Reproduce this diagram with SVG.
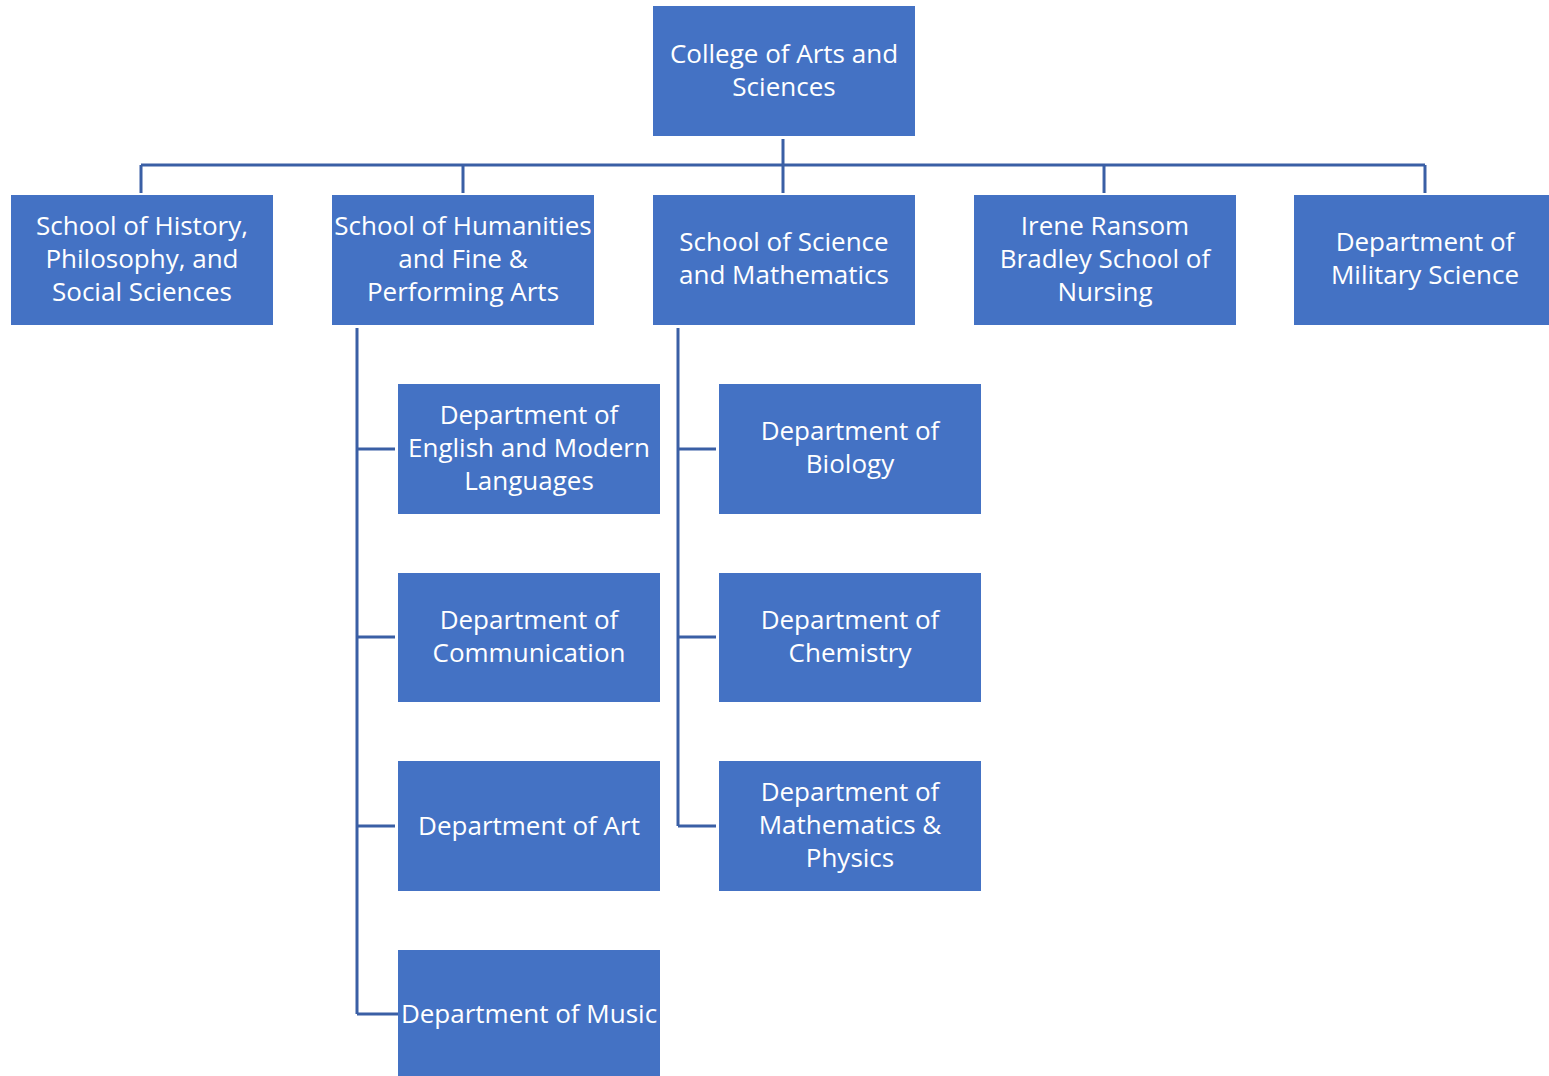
<svg xmlns="http://www.w3.org/2000/svg" width="1549" height="1076" viewBox="0 0 1549 1076">
<style>
.box{fill:#4472C4}
.lbl{fill:#fff;font-family:"Open Sans","Noto Sans",sans-serif;font-size:26px;text-anchor:middle;dominant-baseline:central}
.con{fill:none;stroke:#3A5FA5;stroke-width:3}
</style>
<rect width="1549" height="1076" fill="#fff"/>
<g id="connectors">
<path class="con" d="M783 139V193M141 165H1425M141 165V193M463 165V193M1425 165V193M1104 165V193"/>
<path class="con" d="M357 328V1014M357 449H395M357 637H395M357 826H395M357 1014H398"/>
<path class="con" d="M678 328V826M678 449H716M678 637H716M678 826H716"/>
</g>
<g id="college"><rect class="box" x="653" y="6" width="262" height="130"/><text class="lbl" x="784"><tspan x="784" y="53">College of Arts and</tspan><tspan x="784" y="86">Sciences</tspan></text></g>
<g id="history"><rect class="box" x="11" y="195" width="262" height="130"/><text class="lbl"><tspan x="142" y="225">School of History,</tspan><tspan x="142" y="258">Philosophy, and</tspan><tspan x="142" y="291">Social Sciences</tspan></text></g>
<g id="humanities"><rect class="box" x="332" y="195" width="262" height="130"/><text class="lbl"><tspan x="463" y="225">School of Humanities</tspan><tspan x="463" y="258">and Fine &amp;</tspan><tspan x="463" y="291">Performing Arts</tspan></text></g>
<g id="science"><rect class="box" x="653" y="195" width="262" height="130"/><text class="lbl"><tspan x="784" y="241">School of Science</tspan><tspan x="784" y="274">and Mathematics</tspan></text></g>
<g id="nursing"><rect class="box" x="974" y="195" width="262" height="130"/><text class="lbl"><tspan x="1105" y="225">Irene Ransom</tspan><tspan x="1105" y="258">Bradley School of</tspan><tspan x="1105" y="291">Nursing</tspan></text></g>
<g id="military"><rect class="box" x="1294" y="195" width="262" height="130"/><text class="lbl"><tspan x="1425" y="241">Department of</tspan><tspan x="1425" y="274">Military Science</tspan></text></g>
<g id="english"><rect class="box" x="398" y="384" width="262" height="130"/><text class="lbl"><tspan x="529" y="414">Department of</tspan><tspan x="529" y="447">English and Modern</tspan><tspan x="529" y="480">Languages</tspan></text></g>
<g id="communication"><rect class="box" x="398" y="573" width="262" height="129"/><text class="lbl"><tspan x="529" y="619">Department of</tspan><tspan x="529" y="652">Communication</tspan></text></g>
<g id="art"><rect class="box" x="398" y="761" width="262" height="130"/><text class="lbl" x="529" y="825">Department of Art</text></g>
<g id="music"><rect class="box" x="398" y="950" width="262" height="126"/><text class="lbl" x="529" y="1013">Department of Music</text></g>
<g id="biology"><rect class="box" x="719" y="384" width="262" height="130"/><text class="lbl"><tspan x="850" y="430">Department of</tspan><tspan x="850" y="463">Biology</tspan></text></g>
<g id="chemistry"><rect class="box" x="719" y="573" width="262" height="129"/><text class="lbl"><tspan x="850" y="619">Department of</tspan><tspan x="850" y="652">Chemistry</tspan></text></g>
<g id="mathphys"><rect class="box" x="719" y="761" width="262" height="130"/><text class="lbl"><tspan x="850" y="791">Department of</tspan><tspan x="850" y="824">Mathematics &amp;</tspan><tspan x="850" y="857">Physics</tspan></text></g>
</svg>
